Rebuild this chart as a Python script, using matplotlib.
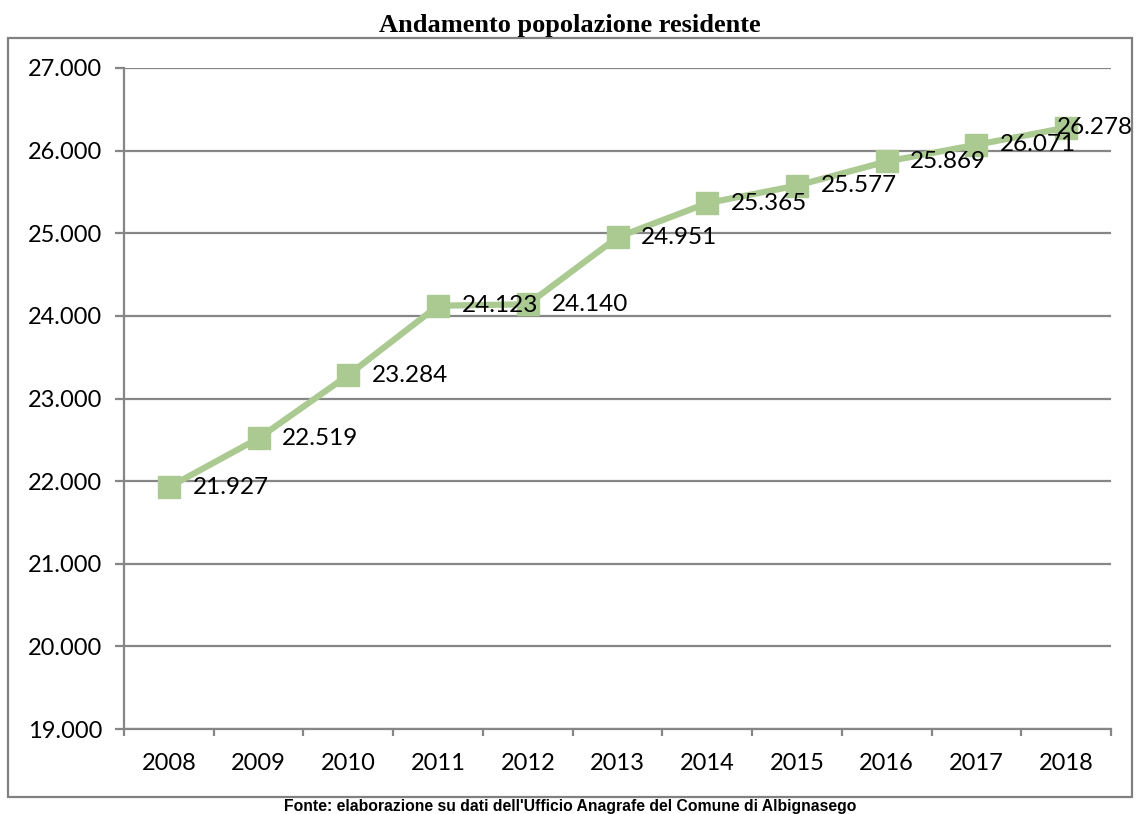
import matplotlib.pyplot as plt
from matplotlib.patches import Rectangle
from matplotlib.ticker import FuncFormatter, MultipleLocator

years = ["2008", "2009", "2010", "2011", "2012", "2013", "2014", "2015", "2016", "2017", "2018"]
population = [21927, 22519, 23284, 24123, 24140, 24951, 25365, 25577, 25869, 26071, 26278]

title = "Andamento popolazione residente"
source = "Fonte: elaborazione su dati dell'Ufficio Anagrafe del Comune di Albignasego"

grey = "#868686"
green = "#ABCA92"

def it_fmt(v, pos=None):
    return f"{v:,.0f}".replace(",", ".")

fig = plt.figure(figsize=(11.4, 8.14), dpi=100)
ax = fig.add_axes([124/1140, 1-729/814, (1111-124)/1140, (729-68)/814])

x = range(len(years))
ax.plot(x, population, color=green, lw=4.5, marker="s", ms=15.5, zorder=3)

# data labels to the right of each marker (last one pushed back inside)
for i, v in enumerate(population):
    dx = 17 if i < len(population) - 1 else -7
    ax.annotate(it_fmt(v), (i, v), xytext=(dx, 0), textcoords="offset points",
                ha="left", va="center", fontsize=17.5, family="Lato", zorder=4)

ax.set_xlim(-0.5, len(years) - 0.5)
ax.set_ylim(19000, 27000)
ax.yaxis.set_major_locator(MultipleLocator(1000))
ax.yaxis.set_major_formatter(FuncFormatter(it_fmt))
ax.grid(axis="y", color=grey, lw=1.6)
ax.set_axisbelow(True)

ax.set_xticks(list(x))
ax.set_xticklabels(years)
ax.set_xticks([i - 0.5 for i in range(len(years) + 1)], minor=True)
ax.tick_params(axis="x", which="major", length=0, pad=17)
ax.tick_params(axis="x", which="minor", length=5, width=1.6, color=grey, direction="out")
ax.tick_params(axis="y", length=6.5, width=1.6, color=grey, pad=9)
for lab in ax.get_xticklabels() + ax.get_yticklabels():
    lab.set_family("Lato")
    lab.set_fontsize(17)

for s in ["top", "right"]:
    ax.spines[s].set_visible(False)
for s in ["left", "bottom"]:
    ax.spines[s].set_color(grey)
    ax.spines[s].set_linewidth(1.6)

fig.patches.append(Rectangle((8/1140, 1-797/814), (1132-8)/1140, (797-38)/814,
                             transform=fig.transFigure, fill=False,
                             edgecolor="#808080", lw=1.6))

fig.text(0.5, 1-32/814, title, ha="center", va="baseline", fontsize=19,
         fontweight="bold", family="Liberation Serif")
fig.text(0.5, 1-806/814, source, ha="center", va="center", fontsize=11.3,
         fontweight="bold", family="Liberation Sans")

fig.savefig("out.png", dpi=100)
